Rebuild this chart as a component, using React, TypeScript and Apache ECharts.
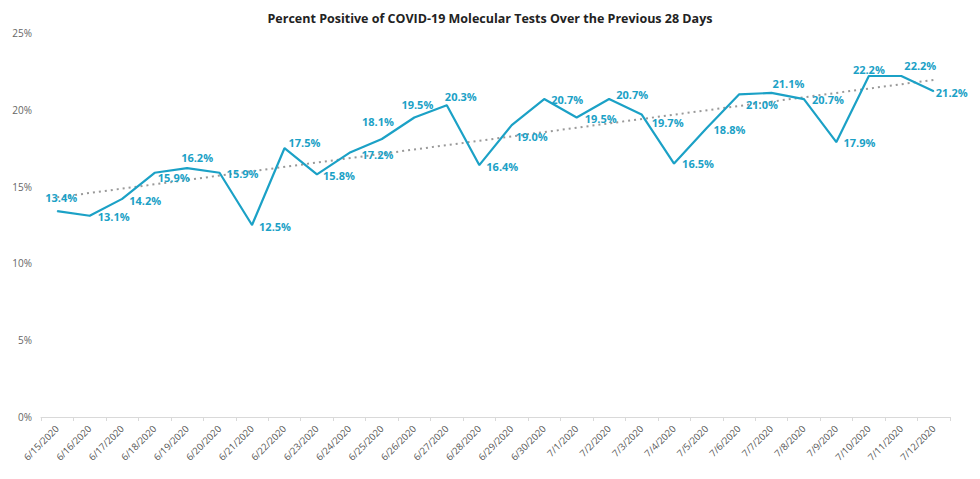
import React, { useEffect, useRef } from "react";
import * as echarts from "echarts";

const titleText = "Percent Positive of COVID-19 Molecular Tests Over the Previous 28 Days";

const dates = [
  "6/15/2020", "6/16/2020", "6/17/2020", "6/18/2020", "6/19/2020", "6/20/2020", "6/21/2020",
  "6/22/2020", "6/23/2020", "6/24/2020", "6/25/2020", "6/26/2020", "6/27/2020", "6/28/2020",
  "6/29/2020", "6/30/2020", "7/1/2020", "7/2/2020", "7/3/2020", "7/4/2020", "7/5/2020",
  "7/6/2020", "7/7/2020", "7/8/2020", "7/9/2020", "7/10/2020", "7/11/2020", "7/12/2020",
];

const percentPositive = [
  13.4, 13.1, 14.2, 15.9, 16.2, 15.9, 12.5,
  17.5, 15.8, 17.2, 18.1, 19.5, 20.3, 16.4,
  19.0, 20.7, 19.5, 20.7, 19.7, 16.5, 18.8,
  21.0, 21.1, 20.7, 17.9, 22.2, 22.2, 21.2,
];

// linear trend endpoints
const trendStart = 14.3;
const trendEnd = 21.95;

const yTicks = [0, 5, 10, 15, 20, 25];

// label shift from its point (pixels): [dx, dy]
const labelShift: [number, number][] = [
  [4, -14], [24, 1], [23, 2], [19, 5], [10, -11], [23, 1], [23, 1],
  [20, -6], [22, 1], [28, 2], [-4, -17], [3, -13], [14, -9], [23, 1],
  [20, 11], [23, 0], [24, 1], [23, -5], [26, 8], [24, 0], [23, 1],
  [23, 10], [17, -9], [24, 0], [23, 0], [0, -7], [19, -11], [18, 1],
];

const BLUE = "#1ba1c6";

export default function App() {
  const ref = useRef<HTMLDivElement>(null);

  useEffect(() => {
    document.body.style.margin = "0";
    const chart = echarts.init(ref.current!, null, { renderer: "svg" });

    const trendData = dates.map((_, i) =>
      i === 0 ? trendStart : i === dates.length - 1 ? trendEnd : null
    );

    chart.setOption({
      animation: false,
      title: {
        text: titleText,
        left: "center",
        top: 7,
        textStyle: {
          fontFamily: "Open Sans",
          fontSize: 12.5,
          fontWeight: "bold",
          color: "#222",
        },
      },
      grid: { left: 41, right: 30, top: 33, bottom: 62, containLabel: false },
      xAxis: {
        type: "category",
        data: dates,
        boundaryGap: true,
        axisLine: { lineStyle: { color: "#d9d9d9" } },
        axisTick: { show: true, length: 4, lineStyle: { color: "#d9d9d9" } },
        axisLabel: {
          rotate: 45,
          interval: 0,
          fontFamily: "Open Sans",
          fontSize: 9.5,
          color: "#555",
          margin: 10,
        },
        splitLine: { show: false },
      },
      yAxis: {
        type: "value",
        min: yTicks[0],
        max: yTicks[yTicks.length - 1],
        interval: 5,
        axisLine: { show: false },
        axisTick: { show: false },
        splitLine: { show: false },
        axisLabel: {
          formatter: "{value}%",
          fontFamily: "Open Sans",
          fontSize: 10,
          color: "#666",
          margin: 9,
        },
      },
      series: [
        {
          type: "line",
          data: trendData,
          connectNulls: true,
          symbol: "none",
          silent: true,
          lineStyle: { color: "#999", width: 2, type: [2, 4] },
          z: 1,
        },
        {
          type: "line",
          data: percentPositive,
          symbol: "circle",
          symbolSize: 1,
          showSymbol: true,
          itemStyle: { color: BLUE },
          lineStyle: { color: BLUE, width: 2.2 },
          label: {
            show: true,
            position: "inside",
            formatter: (p: any) => Number(p.value).toFixed(1) + "%",
            fontFamily: "Open Sans",
            fontSize: 11,
            fontWeight: "bold",
            color: BLUE,
          },
          labelLayout: (params: any) => {
            const s = labelShift[params.dataIndex] || [0, 0];
            return { dx: s[0], dy: s[1], hideOverlap: false };
          },
          z: 2,
        },
      ],
    });

    return () => chart.dispose();
  }, []);

  return <div ref={ref} style={{ width: 980, height: 479 }} />;
}
